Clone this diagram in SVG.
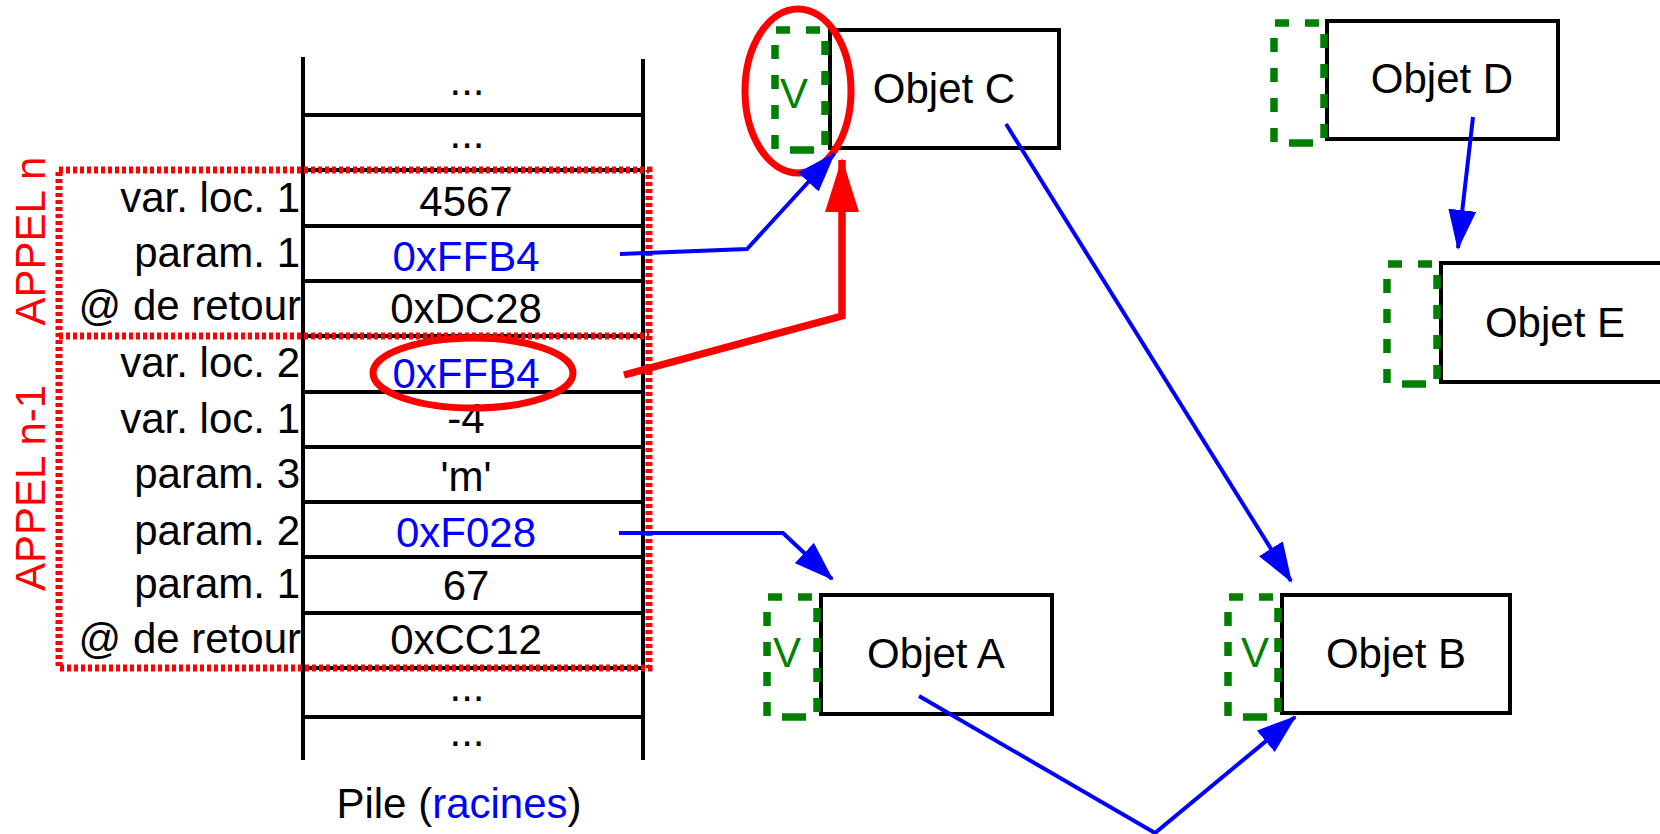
<svg xmlns="http://www.w3.org/2000/svg" width="1660" height="834" viewBox="0 0 1660 834">
<style>
text{font-family:"Liberation Sans",Arial,Helvetica,sans-serif;font-size:42px;fill:#000}
.v{text-anchor:middle}
.lb{text-anchor:end}
.blue{fill:#0000ff}
.red{fill:#ff0000}
.grn{fill:#008000}
.stk{stroke:#000;stroke-width:4;fill:none}
.obj{stroke:#000;stroke-width:4;fill:#fff}
.gbox{stroke:#008000;stroke-width:7.5;fill:none;stroke-dasharray:14 16}
.dot{stroke:#ff0000;stroke-width:7;fill:none;stroke-dasharray:4 3}
.ell{stroke:#ff0000;stroke-width:7;fill:none}
.bl{stroke:#0000ff;stroke-width:4;fill:none;marker-end:url(#ab)}
.rd{stroke:#ff0000;stroke-width:7.5;fill:none;marker-end:url(#ar)}
</style>
<defs>
<marker id="ab" markerUnits="userSpaceOnUse" markerWidth="40" markerHeight="28" viewBox="0 0 40 28" refX="38" refY="14" orient="auto"><path d="M0,0 L40,14 L0,28 z" fill="#0000ff"/></marker>
<marker id="ar" markerUnits="userSpaceOnUse" markerWidth="54" markerHeight="34" viewBox="0 0 54 34" refX="52" refY="17" orient="auto"><path d="M0,0 L54,17 L0,34 z" fill="#ff0000"/></marker>
</defs>
<rect width="1660" height="834" fill="#fff"/>

<g id="pile">
<path class="stk" d="M303,57 V760 M643,59 V760 M303,115 H643 M303,170 H643 M303,226 H643 M303,281 H643 M303,336 H643 M303,392 H643 M303,447 H643 M303,502 H643 M303,557 H643 M303,613 H643 M303,668 H643 M303,717 H643"/>
<text class="v" x="467" y="95">...</text>
<text class="v" x="467" y="148">...</text>
<text class="v" x="466" y="216">4567</text>
<text class="v blue" x="466" y="271">0xFFB4</text>
<text class="v" x="466" y="323">0xDC28</text>
<text class="v blue" x="466" y="388">0xFFB4</text>
<text class="v" x="466" y="433">-4</text>
<text class="v" x="466" y="491">'m'</text>
<text class="v blue" x="466" y="547">0xF028</text>
<text class="v" x="466" y="600">67</text>
<text class="v" x="466" y="654">0xCC12</text>
<text class="v" x="467" y="701">...</text>
<text class="v" x="467" y="746">...</text>
<text class="lb" x="300" y="212">var. loc. 1</text>
<text class="lb" x="300" y="267">param. 1</text>
<text class="lb" x="301" y="320">@ de retour</text>
<text class="lb" x="300" y="377">var. loc. 2</text>
<text class="lb" x="300" y="433">var. loc. 1</text>
<text class="lb" x="300" y="488">param. 3</text>
<text class="lb" x="300" y="545">param. 2</text>
<text class="lb" x="300" y="598">param. 1</text>
<text class="lb" x="301" y="653">@ de retour</text>
<text class="v" x="459" y="818">Pile (<tspan class="blue">racines</tspan>)</text>
</g>

<g id="appels">
<rect class="dot" x="59" y="170" width="590" height="498"/>
<path class="dot" d="M59,336 H649"/>
<text class="v red" transform="translate(45,241) rotate(-90)">APPEL n</text>
<text class="v red" transform="translate(45,488) rotate(-90)">APPEL n-1</text>
<ellipse class="ell" cx="473" cy="373" rx="100" ry="35"/>
</g>

<g id="objetC">
<rect class="obj" x="830" y="30" width="229" height="118"/>
<path class="gbox" d="M800,150 h25 v-120 h-50 v120 z"/>
<text class="grn" x="794" y="108" text-anchor="middle">V</text>
<text class="v" x="944" y="103">Objet C</text>
<ellipse class="ell" cx="798" cy="91" rx="53" ry="82"/>
</g>

<g id="objetD">
<rect class="obj" x="1327" y="21" width="231" height="118"/>
<path class="gbox" d="M1299,143 h25 v-120 h-50 v120 z"/>
<text class="v" x="1442" y="93">Objet D</text>
</g>

<g id="objetE">
<rect class="obj" x="1441" y="263" width="240" height="119"/>
<path class="gbox" d="M1412,384 h25 v-120 h-50 v120 z"/>
<text class="v" x="1555" y="337">Objet E</text>
</g>

<g id="objetA">
<rect class="obj" x="821" y="595" width="231" height="119"/>
<path class="gbox" d="M792,717 h25 v-120 h-50 v120 z"/>
<text class="grn" x="787" y="667" text-anchor="middle">V</text>
<text class="v" x="936" y="668">Objet A</text>
</g>

<g id="objetB">
<rect class="obj" x="1282" y="595" width="228" height="118"/>
<path class="gbox" d="M1253,717 h25 v-120 h-50 v120 z"/>
<text class="grn" x="1255" y="667" text-anchor="middle">V</text>
<text class="v" x="1396" y="668">Objet B</text>
</g>

<g id="connecteurs">
<path class="bl" d="M620,254 L747,249 L834,154"/>
<path class="rd" d="M624,375 L842,316 L842,160"/>
<path class="bl" d="M619,533 L783,533 L832,579"/>
<path class="bl" d="M1006,124 L1291,581"/>
<path class="bl" d="M1473,117 L1458,248"/>
<path class="bl" d="M919,696 L1155,833 L1295,717"/>
</g>
</svg>
